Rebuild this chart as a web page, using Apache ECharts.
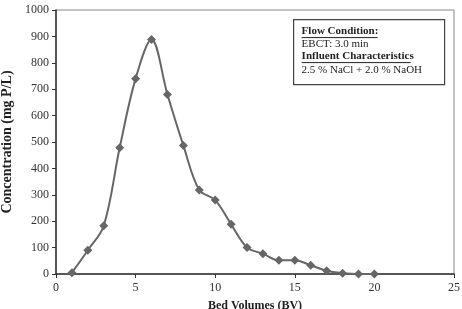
<!DOCTYPE html>
<html>
<head>
<meta charset="utf-8">
<script src="https://cdn.jsdelivr.net/npm/echarts@6/dist/echarts.min.js"></script>
<style>
  html, body { margin: 0; padding: 0; background: #fff; }
  #main { width: 462px; height: 309px; }
</style>
</head>
<body>
<div id="main"></div>
<script>
// bed volumes and phosphorus concentration
let bedVolumes = [1, 2, 3, 4, 5, 6, 7, 8, 9, 10, 11, 12, 13, 14, 15, 16, 17, 18, 19, 20];
let concentration = [5, 90, 183, 478, 740, 888, 680, 487, 318, 280, 188, 100, 77, 52, 52, 33, 12, 3, 0, 0];
let boxLines = ['Flow Condition:', 'EBCT: 3.0 min', 'Influent Characteristics', '2.5 % NaCl + 2.0 % NaOH'];

let serif = '"Liberation Serif", "DejaVu Serif", serif';
let points = [];
for (let i = 0; i < bedVolumes.length; i++) {
    points.push([bedVolumes[i], concentration[i]]);
}

let option = {
    animation: false,
    grid: {
        left: 56, right: 8, top: 10, bottom: 35,
        outerBoundsMode: 'none',
        containLabel: false,
        show: true, borderColor: '#888', borderWidth: 1
    },
    xAxis: {
        type: 'value',
        min: 0, max: 25, interval: 5,
        name: 'Bed Volumes (BV)',
        nameLocation: 'middle',
        nameGap: 26,
        nameTextStyle: {fontFamily: serif, fontWeight: 'bold', fontSize: 12, color: '#222'},
        axisLine: {lineStyle: {color: '#333', width: 1.5}},
        axisTick: {show: true, length: 4, lineStyle: {color: '#333'}},
        axisLabel: {fontFamily: serif, fontSize: 12, color: '#333', margin: 8},
        splitLine: {show: false}
    },
    yAxis: {
        type: 'value',
        min: 0, max: 1000, interval: 100,
        name: 'Concentration (mg P/L)',
        nameLocation: 'middle',
        nameGap: 38,
        nameTextStyle: {fontFamily: serif, fontWeight: 'bold', fontSize: 14, color: '#222'},
        axisLine: {show: true, lineStyle: {color: '#333', width: 1.5}},
        axisTick: {show: true, length: 4, lineStyle: {color: '#333'}},
        axisLabel: {fontFamily: serif, fontSize: 12, color: '#333', margin: 7,
                    formatter: function (v) { return String(v); }},
        splitLine: {show: false}
    },
    series: [{
        type: 'line',
        data: points,
        smooth: 0.35,
        symbol: 'diamond',
        symbolSize: 9,
        lineStyle: {color: '#666', width: 2},
        itemStyle: {color: '#666'}
    }],
    graphic: [{
        type: 'group',
        left: 293, top: 19,
        children: [
            {type: 'rect', shape: {x: 0, y: 0, width: 151, height: 65},
             style: {fill: '#fff', stroke: '#444', lineWidth: 1.2}},
            {type: 'text', x: 8, y: 6, style: {text: boxLines[0], font: 'bold 11px ' + serif, fill: '#222'}},
            {type: 'line', shape: {x1: 8, y1: 18, x2: 84, y2: 18}, style: {stroke: '#222', lineWidth: 1}},
            {type: 'text', x: 8, y: 19, style: {text: boxLines[1], font: '11px ' + serif, fill: '#222'}},
            {type: 'text', x: 8, y: 31, style: {text: boxLines[2], font: 'bold 11px ' + serif, fill: '#222'}},
            {type: 'line', shape: {x1: 8, y1: 43, x2: 117, y2: 43}, style: {stroke: '#222', lineWidth: 1}},
            {type: 'text', x: 8, y: 45, style: {text: boxLines[3], font: '11px ' + serif, fill: '#222'}}
        ]
    }]
};

let chart = echarts.init(document.getElementById('main'));
chart.setOption(option);
</script>
</body>
</html>
